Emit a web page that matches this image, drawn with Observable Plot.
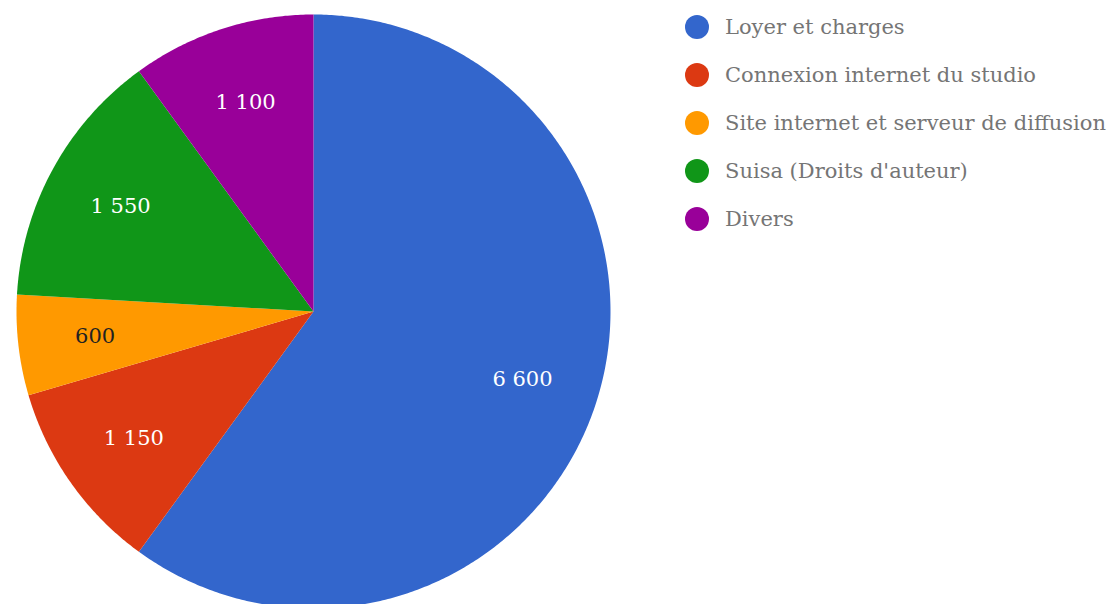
<!DOCTYPE html>
<html>
<head>
<meta charset="utf-8">
<script src="https://cdn.jsdelivr.net/npm/d3@7"></script>
<script src="https://cdn.jsdelivr.net/npm/@observablehq/plot@0.6"></script>
<style>
  html, body { margin: 0; padding: 0; background: #fff; }
  #wrap { position: relative; width: 1112px; height: 604px; overflow: hidden; }
  #legend { position: absolute; left: 685px; top: 3px; font-family: "DejaVu Serif", serif; font-size: 21px; color: #757575; white-space: nowrap; }
  .item { display: flex; align-items: center; height: 48px; }
  .sw { width: 24px; height: 24px; border-radius: 50%; margin-right: 16px; flex: none; }
</style>
</head>
<body>
<div id="wrap"><div id="legend"></div></div>
<script>
const categories = ["Loyer et charges", "Connexion internet du studio", "Site internet et serveur de diffusion", "Suisa (Droits d'auteur)", "Divers"];
const values = [6600, 1150, 600, 1550, 1100];
const colors = ["#3366cc", "#dc3912", "#ff9900", "#109618", "#990099"];
const labelColors = ["#ffffff", "#ffffff", "#222222", "#ffffff", "#ffffff"];

const fmt = d3.formatLocale({decimal: ",", thousands: " ", grouping: [3], currency: ["", ""]}).format(",d");

const total = d3.sum(values);
let acc = 0;
const slices = categories.map((c, i) => {
  const a0 = acc / total * 2 * Math.PI;
  acc += values[i];
  const a1 = acc / total * 2 * Math.PI;
  return {category: c, value: values[i], a0, a1, i};
});

const outline = [];
for (const s of slices) {
  outline.push({category: s.category, x: 0, y: 0});
  const n = Math.max(2, Math.ceil((s.a1 - s.a0) / (Math.PI / 360)));
  for (let k = 0; k <= n; k++) {
    const a = s.a0 + (s.a1 - s.a0) * k / n;
    outline.push({category: s.category, x: Math.sin(a), y: Math.cos(a)});
  }
  outline.push({category: s.category, x: 0, y: 0});
}

const labels = slices.map(s => {
  const m = (s.a0 + s.a1) / 2;
  return {category: s.category, text: fmt(s.value), x: 0.74 * Math.sin(m), y: 0.74 * Math.cos(m), color: labelColors[s.i]};
});

const chart = Plot.plot({
  width: 1112,
  height: 604,
  margin: 0,
  x: {domain: [-1, 1], range: [16, 610], axis: null},
  y: {domain: [-1, 1], range: [608, 14], axis: null},
  color: {domain: categories, range: colors},
  style: {background: "#fff"},
  marks: [
    Plot.line(outline, {x: "x", y: "y", z: "category", fill: "category", stroke: "none", curve: "linear"}),
    Plot.text(labels, {x: "x", y: "y", text: "text", fill: "color", fontSize: 21, fontFamily: "DejaVu Serif", textAnchor: "middle"})
  ]
});
const wrap = document.getElementById("wrap");
wrap.insertBefore(chart, wrap.firstChild);

const legend = document.getElementById("legend");
categories.forEach((c, i) => {
  const it = document.createElement("div");
  it.className = "item";
  const sw = document.createElement("span");
  sw.className = "sw";
  sw.style.background = colors[i];
  const t = document.createElement("span");
  t.textContent = c;
  it.appendChild(sw);
  it.appendChild(t);
  legend.appendChild(it);
});
</script>
</body>
</html>
